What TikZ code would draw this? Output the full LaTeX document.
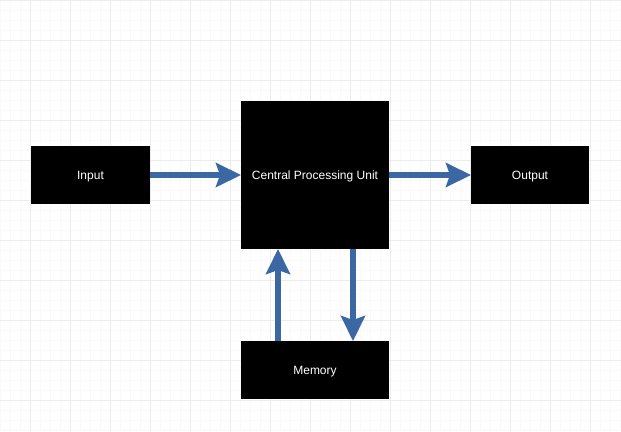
\documentclass[tikz,border=0pt]{standalone}
\usepackage{fontspec}
\setmainfont{Liberation Sans}
\usepackage{xcolor}
\usetikzlibrary{arrows.meta}

\definecolor{flowblue}{RGB}{59,103,163}

\tikzset{
    unit/.style={fill=black, text=white, inner sep=0pt, outer sep=0pt, text height=8pt, text depth=0pt, font=\fontsize{12}{14}\selectfont},
    flow/.style={-{Stealth[length=25pt,width=24pt,inset=4pt]}, line width=6pt, flowblue}
}

\begin{document}
\begin{tikzpicture}[x=1pt,y=-1pt]
    \useasboundingbox (0,0) rectangle (621,431);
    \fill[white] (0,0) rectangle (621,431);
    \draw[color=gray!5, step=10pt] (0,0) grid (621,431);
    \foreach \x in {30,70,...,590} \draw[gray!15] (\x,0) -- (\x,431);
    \foreach \y in {0,40,...,430} \draw[gray!15] (0,\y) -- (621,\y);

    \node[unit, minimum width=119pt, minimum height=58pt] (input) at (90.5,175) {Input};
    \node[unit, minimum width=148pt, minimum height=148pt] (cpu) at (315,175) {Central Processing Unit};
    \node[unit, minimum width=118pt, minimum height=58pt] (output) at (530,175) {Output};
    \node[unit, minimum width=148pt, minimum height=58pt] (memory) at (315,370) {Memory};

    \draw[flow] (input.east) -- (cpu.west);
    \draw[flow] (cpu.east) -- (output.west);
    \draw[flow] ([xshift=-37pt]memory.north) -- ([xshift=-37pt]cpu.south);
    \draw[flow] ([xshift=38pt]cpu.south) -- ([xshift=38pt]memory.north);
\end{tikzpicture}
\end{document}
